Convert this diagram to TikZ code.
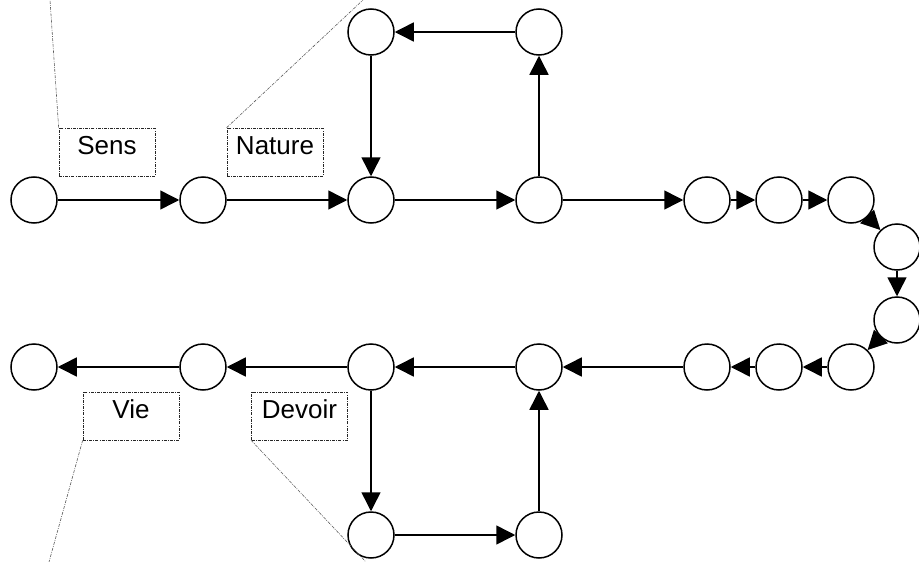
\documentclass[tikz,border=0pt]{standalone}
\usepackage{fontspec}
\setmainfont{Liberation Sans}
\usetikzlibrary{arrows.meta}
\begin{document}
\begin{tikzpicture}[x=1pt,y=-1pt,
  ball/.style={circle,draw=black,line width=1.5pt,minimum size=46pt,inner sep=0pt,fill=white},
  link/.style={line width=1.5pt,-{Triangle[length=19pt,width=19pt]}},
  tag/.style={draw=black!85,line width=0.7pt,dash pattern=on 3pt off 1.2pt on 0.8pt off 1.2pt,
    minimum width=96pt,inner sep=0pt,text height=26pt,text depth=22pt,
    font=\fontsize{26}{30}\selectfont},
  lead/.style={draw=black!65,line width=0.6pt,dash pattern=on 3pt off 1.2pt on 0.8pt off 1.2pt}]
\useasboundingbox (0,0) rectangle (919,562);
% circles
\node[ball] (t1) at (34,200) {};
\node[ball] (t2) at (203,200) {};
\node[ball] (t3) at (371,200) {};
\node[ball] (t4) at (539,200) {};
\node[ball] (t5) at (707,200) {};
\node[ball] (t6) at (779,200) {};
\node[ball] (t7) at (851,200) {};
\node[ball] (r1) at (897,247) {};
\node[ball] (r2) at (897,320) {};
\node[ball] (b7) at (851,367) {};
\node[ball] (b6) at (779,367) {};
\node[ball] (b5) at (707,367) {};
\node[ball] (b4) at (539,367) {};
\node[ball] (b3) at (371,367) {};
\node[ball] (b2) at (203,367) {};
\node[ball] (b1) at (34,367) {};
\node[ball] (u3) at (371,32) {};
\node[ball] (u4) at (539,32) {};
\node[ball] (d3) at (371,535) {};
\node[ball] (d4) at (539,535) {};
% arrows
\foreach \a/\b in {t1/t2,t2/t3,t3/t4,t4/t5,t5/t6,t6/t7,t7/r1,r1/r2,r2/b7,b7/b6,b6/b5,b5/b4,b4/b3,b3/b2,b2/b1,t4/u4,u4/u3,u3/t3,b3/d3,d3/d4,d4/b4}
  \draw[link] (\a) -- (\b);
% labels
\node[tag] (sens) at (107,152) {Sens};
\node[tag] (nature) at (275,152) {Nature};
\node[tag] (vie) at (131,416) {Vie};
\node[tag] (devoir) at (299.5,416) {Devoir};
\coordinate (s0) at (50,0);
\coordinate (n0) at (363,0);
\coordinate (v0) at (49,562);
\coordinate (d0) at (366,562);
\draw[lead] (sens.north west) -- (s0);
\draw[lead] (nature.north west) -- (n0);
\draw[lead] (vie.south west) -- (v0);
\draw[lead] (devoir.south west) -- (d0);
\end{tikzpicture}
\end{document}
